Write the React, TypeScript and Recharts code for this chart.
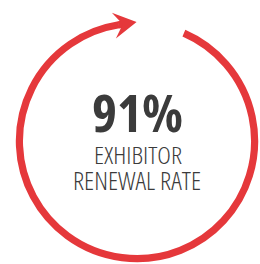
import { RadialBarChart, RadialBar, PolarAngleAxis } from "recharts"

const categories = ["Exhibitor Renewal Rate"]
const rates = [91]
const labelLines = ["EXHIBITOR", "RENEWAL RATE"]

const data = categories.map((name, i) => ({ name, value: rates[i] }))

const RED = "#e5383b"
const INK = "#3b3b3b"
const RAD = Math.PI / 180

// arc with an arrow head at its end
function ArrowArc(props: any) {
  const { cx, cy, innerRadius, outerRadius, startAngle, endAngle } = props
  const r = (innerRadius + outerRadius) / 2
  const w = outerRadius - innerRadius
  const pt = (a: number) => [cx + r * Math.cos(a * RAD), cy - r * Math.sin(a * RAD)]
  const [sx, sy] = pt(startAngle)
  const [ex, ey] = pt(endAngle)
  const large = Math.abs(startAngle - endAngle) > 180 ? 1 : 0
  const rot = 90 - (((endAngle % 360) + 360) % 360)
  return (
    <g>
      <path
        d={`M${sx},${sy} A${r},${r} 0 ${large} 1 ${ex},${ey}`}
        fill="none"
        stroke={RED}
        strokeWidth={w}
      />
      <g transform={`translate(${ex},${ey}) rotate(${rot})`}>
        <line x1={-0.5} y1={0} x2={8} y2={0} stroke={RED} strokeWidth={w} />
        <polygon points="18,0 -5,-13 4,0 -5,13" fill={RED} />
      </g>
    </g>
  )
}

export default function App() {
  return (
    <div style={{ position: "fixed", left: 0, top: 0, width: 260, height: 264, background: "#fff" }}>
      <RadialBarChart
        width={260}
        height={264}
        data={data}
        cx={137}
        cy={141}
        innerRadius={114}
        outerRadius={122}
        barSize={8}
        startAngle={66.5}
        endAngle={-293.5}
        margin={{ top: 0, right: 0, bottom: 0, left: 0 }}
      >
        <PolarAngleAxis type="number" domain={[0, 100]} tick={false} axisLine={false} />
        <RadialBar dataKey="value" isAnimationActive={false} shape={ArrowArc} />
        <text
          x={137.5}
          y={132}
          textAnchor="middle"
          fontFamily="'Open Sans', 'Noto Sans', sans-serif"
          fontWeight={700}
          fontSize={52}
          fill={INK}
          textLength={91}
          lengthAdjust="spacingAndGlyphs"
          style={{ fontStretch: "condensed" }}
        >
          {rates[0]}%
        </text>
        <text
          x={138}
          y={164}
          textAnchor="middle"
          fontFamily="'Open Sans', 'Noto Sans', sans-serif"
          fontWeight={300}
          fontSize={24}
          fill={INK}
          textLength={88}
          lengthAdjust="spacingAndGlyphs"
          style={{ fontStretch: "condensed" }}
        >
          {labelLines[0]}
        </text>
        <text
          x={137}
          y={190}
          textAnchor="middle"
          fontFamily="'Open Sans', 'Noto Sans', sans-serif"
          fontWeight={300}
          fontSize={25}
          fill={INK}
          textLength={128}
          lengthAdjust="spacingAndGlyphs"
          style={{ fontStretch: "condensed" }}
        >
          {labelLines[1]}
        </text>
      </RadialBarChart>
    </div>
  )
}
